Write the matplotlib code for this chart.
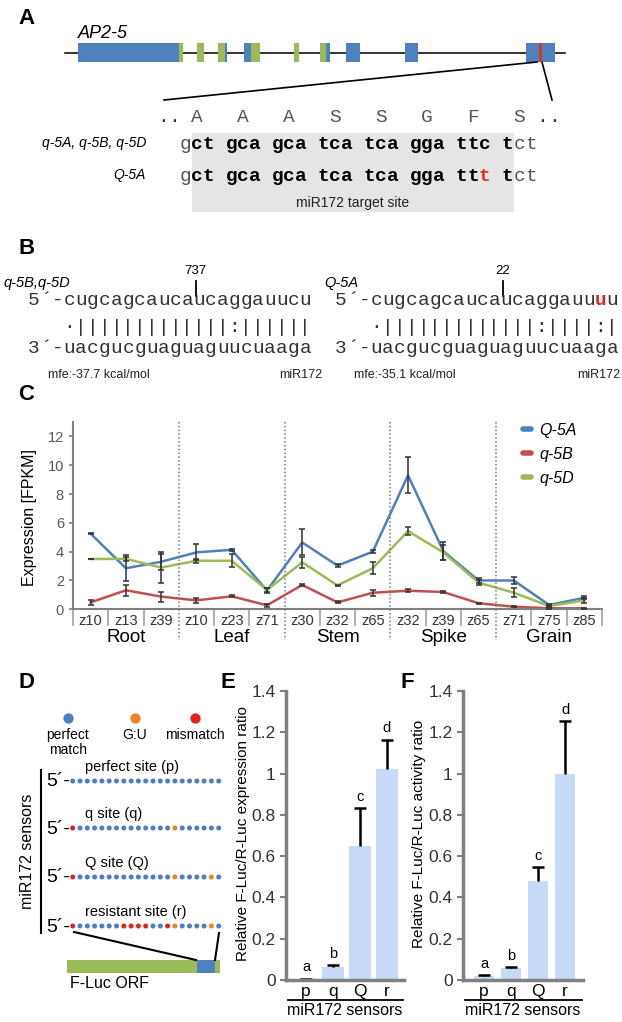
import matplotlib
matplotlib.use("Agg")
import matplotlib.pyplot as plt
import matplotlib.transforms as mtransforms
from matplotlib.patches import Rectangle
from matplotlib.lines import Line2D

plt.rcParams["font.family"] = ["Liberation Sans", "DejaVu Sans"]
MONO = ["Liberation Mono", "DejaVu Sans Mono"]

# ---------------- data ----------------
# A: gene model (schematic units along the gene line)
exon_start = [78, 179, 197, 218, 225, 244, 251, 294, 320, 326, 346, 405, 526]
exon_end = [179, 183, 204, 225, 227, 251, 260, 299, 326, 330, 360, 418, 555]
exon_kind = ["cds", "utr", "utr", "utr", "cds", "cds", "utr", "utr", "utr", "cds", "cds", "cds", "cds"]
target_site = (539, 542)
amino_acids = ["A", "A", "A", "S", "S", "G", "F", "S"]
seq_q = "gct gca gca tca tca gga ttc tct"
seq_Q = "gct gca gca tca tca gga ttt tct"
seq_labels = ["q-5A, q-5B, q-5D", "Q-5A"]

# B: duplexes
target_qBD = "5\u00b4-cugcagcaucaucaggauucu"
pair_qBD = "   \u00b7|||||||||||||:||||||"
target_QA = "5\u00b4-cugcagcaucaucaggauuuu"
pair_QA = "   \u00b7|||||||||||||:||||:|"
mir172 = "3\u00b4-uacgucguaguaguucuaaga"
cleave_site = ["737", "22"]
mfe = ["mfe:-37.7 kcal/mol", "mfe:-35.1 kcal/mol"]

# C: expression
tissues = ["Root", "Leaf", "Stem", "Spike", "Grain"]
stages = ["z10", "z13", "z39", "z10", "z23", "z71", "z30", "z32", "z65",
          "z32", "z39", "z65", "z71", "z75", "z85"]
Q5A = [5.25, 2.85, 3.3, 3.95, 4.13, 1.3, 4.64, 3.03, 4.0, 9.3, 4.04, 2.0, 2.0, 0.3, 0.8]
Q5A_err = [0.05, 0.9, 0.55, 0.55, 0.05, 0.2, 0.9, 0.1, 0.1, 1.25, 0.6, 0.2, 0.25, 0.05, 0.1]
q5B = [0.48, 1.32, 0.88, 0.62, 0.9, 0.28, 1.69, 0.48, 1.15, 1.29, 1.2, 0.42, 0.18, 0.07, 0.07]
q5B_err = [0.15, 0.4, 0.35, 0.15, 0.07, 0.1, 0.1, 0.07, 0.2, 0.1, 0.05, 0.05, 0.05, 0.03, 0.03]
q5D = [3.49, 3.5, 2.9, 3.37, 3.37, 1.34, 3.26, 1.66, 2.85, 5.43, 3.95, 1.85, 1.15, 0.23, 0.62]
q5D_err = [0.03, 0.15, 1.1, 0.15, 0.45, 0.15, 0.4, 0.05, 0.4, 0.25, 0.5, 0.15, 0.3, 0.05, 0.15]

# D: sensor sites (b = perfect match, o = G:U, r = mismatch)
site_names = ["perfect site (p)", "q site (q)", "Q site (Q)", "resistant site (r)"]
site_pattern = ["bbbbbbbbbbbbbbbbbbbbb",
                "rbbbbbbbbbbbbbobbbbbb",
                "rbbbbbbbbbbbbbobbbbob",
                "rbbbbbbrrrrbbrobbbbob"]

# E / F: sensor assays
sensors = ["p", "q", "Q", "r"]
expr_ratio = [0.005, 0.065, 0.65, 1.02]
expr_err = [0.002, 0.008, 0.185, 0.145]
act_ratio = [0.02, 0.06, 0.48, 1.0]
act_err = [0.005, 0.003, 0.065, 0.255]
sig_letters = ["a", "b", "c", "d"]

BLUE, RED, GREEN = "#4f81bd", "#c0504d", "#9bbb59"
DOT = {"b": "#4a7fc1", "o": "#ee8325", "r": "#e2231a"}
GREY = "#808080"

fig = plt.figure(figsize=(6.22, 10.22), dpi=100)
ov = fig.add_axes([0, 0, 1, 1])
ov.set_xlim(0, 622)
ov.set_ylim(1022, 0)
ov.axis("off")


def panel(x, y, s):
    ov.text(x, y, s, fontsize=16, fontweight="bold", va="center", ha="left")


def put_seq(s, x0, y, cw, size, color="black", weight="normal", special=None):
    special = special or {}
    for i, ch in enumerate(s):
        if ch == " ":
            continue
        c, w = special.get(i, (color, weight))
        ov.text(x0 + (i + 0.5) * cw, y, ch, family=MONO, fontsize=size,
                color=c, fontweight=w, ha="center", va="baseline")


# ---------------- A ----------------
panel(18, 18, "A")
ov.text(78, 33, "AP2-5", fontsize=13, style="italic", va="center")
ov.plot([65, 565], [53, 53], color="black", lw=1.1, zorder=1)
for s, e, k in zip(exon_start, exon_end, exon_kind):
    ov.add_patch(Rectangle((s, 43), e - s, 19, color=BLUE if k == "cds" else GREEN, lw=0, zorder=2))
ov.add_patch(Rectangle((target_site[0], 43), target_site[1] - target_site[0], 19,
                       color="#d9342b", lw=0, zorder=3))
ov.plot([537, 164], [62, 100], color="black", lw=1.2)
ov.plot([542, 552], [62, 100], color="black", lw=1.2)

cw = 11.5
x0 = 180
ov.add_patch(Rectangle((x0 + cw, 133), 28 * cw, 79, color="#e5e5e5", lw=0, zorder=0))
for i, aa in enumerate(amino_acids):
    ov.text(x0 + (4 * i + 1.5) * cw, 122, aa, family=MONO, fontsize=14, color="#555555",
            ha="center", va="baseline")
put_seq("..", x0 - 2 * cw, 122, cw, 14, color="#333333")
put_seq("..", x0 + 31 * cw, 122, cw, 14, color="#333333")

norm_idx = {0: ("#555555", "normal"), 29: ("#555555", "normal"), 30: ("#555555", "normal")}
put_seq(seq_q, x0, 149, cw, 14, weight="bold", special=norm_idx)
sp = dict(norm_idx)
sp[26] = ("#e8301c", "bold")
put_seq(seq_Q, x0, 181, cw, 14, weight="bold", special=sp)
ov.text(146, 143, seq_labels[0], fontsize=10, style="italic", ha="right", va="center")
ov.text(146, 175, seq_labels[1], fontsize=10, style="italic", ha="right", va="center")
ov.text(x0 + 15 * cw, 203, "miR172 target site", fontsize=10, ha="center", va="center", color="#222222")

# ---------------- B ----------------
panel(18, 248, "B")
cwb = 11.8
for bx, lab, tgt, pr, num in [(28, "q-5B,q-5D", target_qBD, pair_qBD, cleave_site[0]),
                              (335, "Q-5A", target_QA, pair_QA, cleave_site[1])]:
    ov.text(bx - 24 if bx == 28 else bx - 11, 283, lab, fontsize=10.5, style="italic",
            ha="left", va="center")
    tick_x = bx + 14.2 * cwb
    ov.text(tick_x, 271, num, fontsize=9.5, ha="center", va="center")
    ov.plot([tick_x, tick_x], [281, 296], color="black", lw=1.3)
    special = {}
    if tgt.endswith("uuuu"):
        special = {22: ("#d62a20", "bold")}
    put_seq(tgt, bx, 305, cwb, 14, color="#333333", special=special)
    put_seq(pr, bx, 332, cwb, 14, color="#333333")
    put_seq(mir172, bx, 353, cwb, 14, color="#333333")

ov.text(48, 375, mfe[0], fontsize=9, va="center", ha="left", color="#222222")
ov.text(322, 375, "miR172", fontsize=9, va="center", ha="right", color="#222222")
ov.text(354, 375, mfe[1], fontsize=9, va="center", ha="left", color="#222222")
ov.text(620, 375, "miR172", fontsize=9, va="center", ha="right", color="#222222")

# ---------------- C ----------------
panel(18, 394, "C")
axc = fig.add_axes([73 / 622, (1022 - 609.3) / 1022, 529 / 622, 187.3 / 1022])
axc.set_facecolor("none")
xs = list(range(len(stages)))
for vals, errs, col in [(Q5A, Q5A_err, BLUE), (q5B, q5B_err, RED), (q5D, q5D_err, GREEN)]:
    axc.plot(xs, vals, color=col, lw=1.8, zorder=2)
for vals, errs, col in [(Q5A, Q5A_err, BLUE), (q5B, q5B_err, RED), (q5D, q5D_err, GREEN)]:
    axc.errorbar(xs, vals, yerr=errs, fmt="none", ecolor="#333333", elinewidth=1.1,
                 capsize=2.5, capthick=1.1, zorder=3)
axc.set_xlim(-0.5, len(stages) - 0.5)
axc.set_ylim(0, 13)
axc.set_yticks(range(0, 13, 2))
axc.tick_params(axis="y", colors=GREY, labelcolor="#595959", labelsize=10.5, length=3, width=1.2)
axc.set_xticks(xs)
axc.set_xticklabels(stages, fontsize=10.5, color="#333333")
axc.tick_params(axis="x", length=0, pad=3.5)
for side in ["top", "right"]:
    axc.spines[side].set_visible(False)
for side in ["left", "bottom"]:
    axc.spines[side].set_color(GREY)
    axc.spines[side].set_linewidth(1.5)
trans = mtransforms.blended_transform_factory(axc.transData, axc.transAxes)
for b in range(len(stages) + 1):
    bx = b - 0.5
    if b % 3 == 0 and 0 < b < len(stages):
        axc.plot([bx, bx], [1.0, -0.165], transform=trans, color="#777777", lw=1.1,
                 ls=(0, (1, 1.5)), clip_on=False)
    else:
        axc.plot([bx, bx], [0, -0.085], transform=trans, color="#a0a0a0", lw=1.2, clip_on=False)
for i, t in enumerate(tissues):
    axc.text(3 * i + 1, -0.15, t, transform=trans, fontsize=13.5, ha="center", va="center")
handles = [Line2D([0], [0], color=c, lw=4, solid_capstyle="round") for c in [BLUE, RED, GREEN]]
axc.legend(handles, ["Q-5A", "q-5B", "q-5D"], loc="upper left", bbox_to_anchor=(0.85, 0.995),
           frameon=False, handlelength=0.55, handletextpad=0.5, labelspacing=0.55,
           borderaxespad=0, borderpad=0, prop={"style": "italic", "size": 11.5})
ov.text(30, 518, "Expression [FPKM]", rotation=90, fontsize=11.5, ha="center", va="center")

# ---------------- D ----------------
panel(18, 683, "D")
for x, k, lab in [(68, "b", "perfect\nmatch"), (135, "o", "G:U"), (195, "r", "mismatch")]:
    ov.scatter([x], [718], s=55, color=DOT[k], lw=0)
    ov.text(x, 728, lab, fontsize=10, ha="center", va="top", linespacing=1.05)
ov.plot([41, 41], [770, 933], color="black", lw=1.5)
ov.text(28, 851, "miR172 sensors", rotation=90, fontsize=11.5, ha="center", va="center")
row_y = [781, 828, 877, 926]
for name, pat, y in zip(site_names, site_pattern, row_y):
    ov.text(85, y - 14, name, fontsize=10.5, ha="left", va="center")
    ov.text(46, y + 5.5, "5\u00b4-", fontsize=14, ha="left", va="baseline")
    ov.scatter([72.7 + 7.3 * i for i in range(len(pat))], [y] * len(pat), s=13,
               color=[DOT[c] for c in pat], lw=0)
ov.add_patch(Rectangle((67, 960), 130, 13, color=GREEN, lw=0))
ov.add_patch(Rectangle((197, 960), 18, 13, color=BLUE, lw=0))
ov.add_patch(Rectangle((215, 960), 5, 13, color=GREEN, lw=0))
ov.plot([74, 196], [932, 960], color="black", lw=1.5)
ov.plot([219, 215], [933, 960], color="black", lw=1.5)
ov.text(70, 984, "F-Luc ORF", fontsize=11.5, ha="left", va="center")


# ---------------- E / F ----------------
def bar_panel(rect, vals, errs, xlim, width):
    ax = fig.add_axes(rect)
    ax.set_facecolor("none")
    xs = list(range(len(sensors)))
    ax.bar(xs, vals, width=width, color="#c6d9f6", lw=0)
    tops = [v + e for v, e in zip(vals, errs)]
    ax.vlines(xs, vals, tops, color="black", lw=1.8)
    ax.hlines(tops, [x - 0.22 for x in xs], [x + 0.22 for x in xs], color="black", lw=1.8)
    for x, t, l in zip(xs, tops, sig_letters):
        ax.text(x, t + 0.02, l, fontsize=10.5, ha="center", va="bottom")
    ax.set_xlim(*xlim)
    ax.set_ylim(0, 1.4)
    ax.set_yticks([0, 0.2, 0.4, 0.6, 0.8, 1.0, 1.2, 1.4])
    ax.set_yticklabels(["0", "0.2", "0.4", "0.6", "0.8", "1", "1.2", "1.4"])
    ax.tick_params(axis="y", colors=GREY, labelcolor="#333333", labelsize=12.5, length=4, width=1.5)
    ax.set_xticks(xs)
    ax.set_xticklabels(sensors, fontsize=12.5)
    ax.tick_params(axis="x", length=0, pad=3)
    for side in ["top", "right"]:
        ax.spines[side].set_visible(False)
    for side in ["left", "bottom"]:
        ax.spines[side].set_color(GREY)
        ax.spines[side].set_linewidth(2.5)
    ax.plot([0.02, 0.99], [-0.07, -0.07], transform=ax.transAxes, color="black", lw=1.3, clip_on=False)
    ax.text(0.5, -0.107, "miR172 sensors", transform=ax.transAxes, fontsize=11.5,
            ha="center", va="center")
    return ax


panel(221, 683, "E")
bar_panel([286 / 622, 42 / 1022, 118 / 622, 289 / 1022], expr_ratio, expr_err, (-0.74, 3.63), 0.81)
ov.text(243, 834, "Relative F-Luc/R-Luc expression ratio", rotation=90, fontsize=11,
        ha="center", va="center")

panel(400, 683, "F")
bar_panel([463 / 622, 42 / 1022, 120 / 622, 289 / 1022], act_ratio, act_err, (-0.78, 3.66), 0.74)
ov.text(419, 834, "Relative F-Luc/R-Luc activity ratio", rotation=90, fontsize=11,
        ha="center", va="center")

fig.savefig("out.png", dpi=100)
